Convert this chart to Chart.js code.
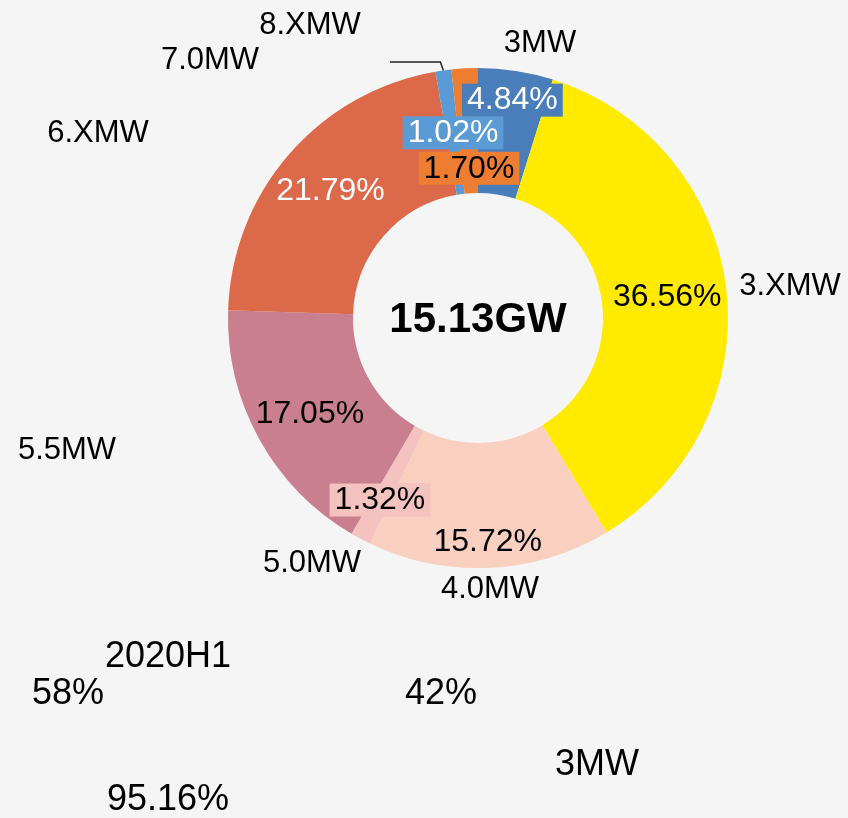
<!DOCTYPE html>
<html>
<head>
<meta charset="utf-8">
<script src="https://cdn.jsdelivr.net/npm/chart.js@4"></script>
<style>
  html, body { margin: 0; padding: 0; background: #f5f5f5; }
  canvas { display: block; }
</style>
</head>
<body>
<canvas id="pieChart" width="848" height="818"></canvas>
<script>
const categories = ['3MW', '3.XMW', '4.0MW', '5.0MW', '5.5MW', '6.XMW', '7.0MW', '8.XMW'];
const shares = [4.84, 36.56, 15.72, 1.32, 17.05, 21.79, 1.02, 1.70];
const totalLabel = '15.13GW';
const extraTexts = ['2020H1', '58%', '42%', '3MW', '95.16%'];

const sliceColors = ['#4a7ebb', '#ffea00', '#f9cfbf', '#f4c2bf', '#c97f8f', '#dd694b', '#5b9bd5', '#ed7d31'];

// percent label styling, offset from the arc's own mid point
const pctStyle = [
    { dx: 6, dy: -33, color: '#ffffff', box: true },
    { dx: 3, dy: 0, color: '#000000' },
    { dx: 1, dy: 36, color: '#000000' },
    { dx: -10, dy: 16, color: '#000000', box: true },
    { dx: -4, dy: 4, color: '#000000' },
    { dx: -6, dy: -5, color: '#ffffff' },
    { dx: 1, dy: 0, color: '#ffffff', box: true },
    { dx: 1, dy: 37, color: '#000000', box: true }
];

// category label positions (placed by hand like the original)
const catPos = [[540, 43], [790, 286], [490, 589], [312, 563], [67, 450], [98, 133], [210, 60], [310, 25]];
const extraPos = [[168, 657], [68, 694], [441, 694], [597, 765], [168, 800]];

const FONT = '"Liberation Sans", Arial, sans-serif';

const labelPlugin = {
    id: 'labels',
    afterDatasetsDraw(chart) {
        const ctx = chart.ctx;
        const arcs = chart.getDatasetMeta(0).data;
        ctx.save();
        ctx.textAlign = 'center';
        ctx.textBaseline = 'middle';

        // leader line for 7.0MW
        const a = arcs[6];
        const mid = (a.startAngle + a.endAngle) / 2;
        const ex = a.x + a.outerRadius * Math.cos(mid);
        const ey = a.y + a.outerRadius * Math.sin(mid);
        ctx.strokeStyle = '#222222';
        ctx.lineWidth = 1.5;
        ctx.beginPath();
        ctx.moveTo(390, 62);
        ctx.lineTo(ex - 3, 62);
        ctx.lineTo(ex, ey);
        ctx.stroke();

        // percentages
        ctx.font = '32px ' + FONT;
        arcs.forEach((arc, i) => {
            const p = arc.tooltipPosition();
            const st = pctStyle[i];
            const x = p.x + st.dx, y = p.y + st.dy;
            const txt = shares[i].toFixed(2) + '%';
            if (st.box) {
                const w = ctx.measureText(txt).width + 10;
                ctx.fillStyle = sliceColors[i];
                ctx.fillRect(x - w / 2, y - 16, w, 33);
            }
            ctx.fillStyle = st.color;
            ctx.fillText(txt, x, y + 1);
        });

        // category names
        ctx.font = '31px ' + FONT;
        ctx.fillStyle = '#000000';
        categories.forEach((c, i) => ctx.fillText(c, catPos[i][0], catPos[i][1]));

        // centre total
        ctx.font = 'bold 42px ' + FONT;
        ctx.fillText(totalLabel, arcs[0].x, arcs[0].y + 2);

        // loose texts below
        ctx.font = '36px ' + FONT;
        extraTexts.forEach((t, i) => ctx.fillText(t, extraPos[i][0], extraPos[i][1]));
        ctx.restore();
    }
};

const config = {
    type: 'doughnut',
    data: {
        labels: categories,
        datasets: [{
            data: shares,
            backgroundColor: sliceColors,
            borderWidth: 0
        }]
    },
    options: {
        responsive: false,
        animation: false,
        cutout: '50%',
        layout: {
            padding: { left: 228, right: 120, top: 68, bottom: 250 }
        },
        plugins: {
            legend: { display: false },
            tooltip: { enabled: false }
        }
    },
    plugins: [labelPlugin]
};

const ctx = document.getElementById('pieChart').getContext('2d');
const pieChart = new Chart(ctx, config);
</script>
</body>
</html>
